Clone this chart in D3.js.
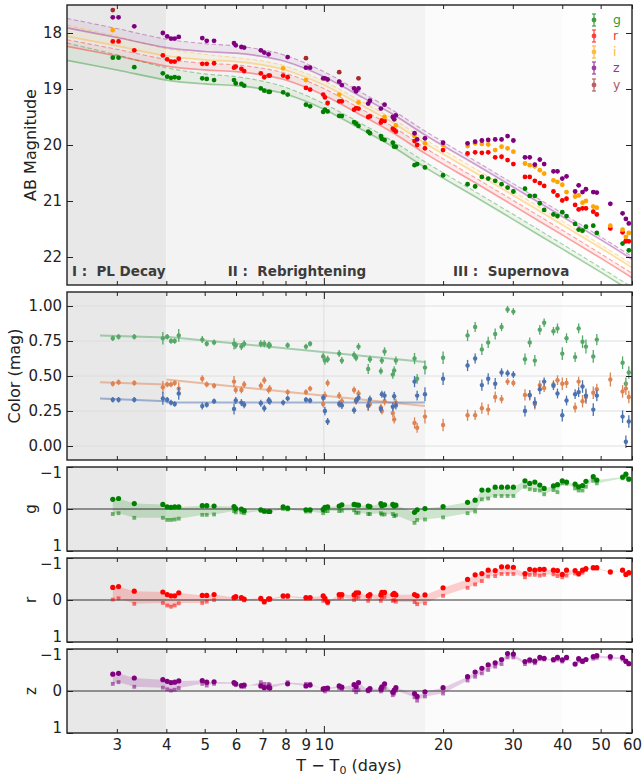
<!DOCTYPE html>
<html><head><meta charset="utf-8">
<script src="https://cdn.jsdelivr.net/npm/d3@7"></script>
<style>body{margin:0;background:#fff} text{font-family:"DejaVu Sans",sans-serif}</style>
</head><body><svg id="c" width="643" height="776"></svg>
<script>
// ---------------- DATA ----------------
const epochs=[2.93,3.03,3.32,3.92,4.02,4.11,4.20,4.30,4.93,5.06,5.28,5.93,5.99,6.19,6.29,6.93,7.07,7.25,7.30,7.89,8.10,9.01,9.23,9.96,10.06,10.22,10.93,11.10,11.92,12.06,12.23,12.94,13.07,13.93,14.01,14.23,14.93,15.05,15.20,16.94,17.20,18.0,20.0,23.06,24.1,25.06,26.0,27.08,28.1,29.1,30.1,32.2,33.1,34.1,35.1,36.0,38.0,38.9,40.0,41.0,43.1,44.0,45.0,45.9,47.9,48.9,52.9,56.8,57.9,58.9];
const gMag=[18.44,18.44,18.61,18.72,18.78,18.80,18.79,18.80,18.81,18.82,18.84,18.84,18.90,18.91,18.94,18.99,19.03,19.05,19.05,19.06,19.10,19.28,19.31,19.41,19.37,19.40,19.48,19.48,19.59,19.62,19.66,19.76,19.79,19.84,19.89,19.91,19.96,20.03,20.03,20.36,20.34,20.40,20.54,20.70,20.74,20.57,20.60,20.64,20.70,20.76,20.83,20.78,20.91,20.91,21.04,21.16,21.24,21.27,21.20,21.27,21.41,21.51,21.53,21.46,21.44,21.57,null,21.76,21.72,21.88];
const rMag=[18.15,18.15,18.31,18.40,18.47,18.51,18.51,18.46,18.55,18.55,18.54,18.62,18.60,18.64,18.68,18.72,18.79,18.76,18.76,18.76,18.79,18.98,19.01,19.10,19.15,19.25,19.22,19.22,19.37,19.34,19.35,19.50,19.49,19.60,19.56,19.57,19.71,19.73,19.76,19.93,20.00,20.06,20.09,20.15,20.13,20.14,20.13,20.22,20.21,20.27,20.34,20.57,20.57,20.64,20.68,20.73,20.83,20.90,20.99,20.96,21.07,21.15,21.13,21.13,21.19,21.24,21.49,21.56,21.71,21.72];
const iMag=[17.95,null,null,null,null,null,null,null,null,null,null,null,null,null,null,null,null,null,null,18.63,null,18.84,null,null,null,null,19.10,null,null,null,19.24,null,null,null,null,19.50,null,null,19.65,19.84,null,19.97,20.00,20.02,19.97,19.98,19.99,20.09,20.03,20.06,20.12,20.33,20.36,20.38,20.45,20.51,20.63,20.66,20.71,20.84,20.92,20.90,21.03,21.00,21.10,21.12,21.44,21.51,21.64,21.57];
const zMag=[17.72,17.72,17.88,18.00,18.06,18.10,18.10,18.07,18.09,18.14,18.14,18.18,18.22,18.25,18.26,18.31,18.35,18.38,null,null,18.43,18.62,18.62,18.81,18.81,18.83,18.87,18.93,18.99,19.04,18.99,19.26,19.21,19.35,null,19.28,19.50,19.54,19.47,19.79,19.90,19.88,19.96,19.97,19.94,19.92,19.91,19.90,19.90,19.84,19.92,20.22,20.22,20.35,20.26,20.34,20.47,20.47,20.60,20.56,20.83,20.72,20.84,20.79,20.84,20.85,21.05,21.22,21.32,21.40];
const yBandT=[2.93,9.01,10.93,12.23];
const yBandMag=[17.59,18.45,18.70,18.81];
const magErrPhase=[0.015,0.015,0.035]; // I, II, III

// model light curves (solid = model, dashed = alternative)
const modelT=[2.245,3,4,5,6,7,8,10,12,15,18,25,35,50,60];
const gSolid=[18.49,18.66,18.84,18.91,18.94,19.00,19.09,19.36,19.66,20.04,20.40,20.99,21.61,22.27,22.62];
const gDash=[18.18,18.39,18.62,18.73,18.78,18.86,18.97,19.26,19.56,19.94,20.30,20.90,21.52,22.19,22.54];
const rSolid=[18.24,18.41,18.59,18.66,18.69,18.75,18.84,19.11,19.41,19.79,20.15,20.74,21.36,22.02,22.37];
const rDash=[18.12,18.29,18.47,18.54,18.57,18.63,18.72,18.99,19.30,19.68,20.05,20.65,21.27,21.94,22.29];
const iSolid=[18.06,18.23,18.41,18.48,18.51,18.57,18.66,18.93,19.23,19.61,19.97,20.56,21.18,21.84,22.19];
const iDash=[17.86,18.06,18.28,18.38,18.44,18.50,18.59,18.86,19.16,19.54,19.90,20.49,21.11,21.78,22.13];
const zSolid=[17.91,18.08,18.26,18.33,18.36,18.42,18.51,18.78,19.08,19.46,19.82,20.41,21.03,21.69,22.04];
const zDash=[17.74,17.92,18.11,18.19,18.23,18.30,18.40,18.69,19.00,19.39,19.75,20.35,20.97,21.64,21.99];

// colours (mag)
const colGZ=[0.77,0.78,0.78,0.77,0.78,0.75,0.75,0.79,0.76,0.73,0.74,0.73,0.72,0.71,0.73,0.73,0.73,0.72,0.72,null,0.72,0.71,0.73,0.64,0.61,0.62,0.66,0.61,0.65,0.63,0.71,0.55,0.62,0.535,0.61,0.675,0.51,0.54,0.61,0.625,0.48,0.56,0.63,0.79,0.85,0.69,0.74,0.80,0.85,0.975,0.96,0.62,0.74,0.61,0.83,0.88,0.82,0.84,0.66,0.77,0.635,0.84,0.745,0.71,0.64,0.76,null,0.595,0.445,0.525];
const colGI=[0.445,0.455,0.45,0.42,0.44,0.44,0.45,0.41,0.48,0.44,0.43,0.46,0.40,0.40,0.44,0.43,0.47,0.40,0.41,null,0.385,0.385,0.41,0.30,0.36,0.45,0.36,0.32,0.40,0.32,0.375,0.285,0.30,0.275,0.25,0.32,0.235,0.19,0.31,0.165,0.13,0.21,0.15,0.22,0.22,0.27,0.26,0.35,0.335,0.46,0.45,0.365,0.36,0.30,0.435,0.415,0.44,0.47,0.445,0.45,0.275,0.46,0.32,0.35,0.38,0.405,0.475,0.39,0.41,0.35];
const colGR=[0.33,0.33,0.33,0.34,0.33,0.31,0.30,0.375,0.285,0.295,0.32,0.265,0.325,0.31,0.295,0.305,0.27,0.325,0.32,0.31,0.34,0.33,0.325,0.345,0.25,0.175,0.30,0.29,0.255,0.325,0.345,0.29,0.335,0.265,0.37,0.36,0.28,0.355,0.29,0.46,0.36,0.37,0.48,0.575,0.625,0.435,0.48,0.445,0.525,0.52,0.51,0.25,0.365,0.31,0.405,0.46,0.43,0.375,0.22,0.325,0.37,0.385,0.425,0.36,0.26,0.36,null,0.21,0.03,0.175];
const colErr=[0.02,0.02,0.02,0.045,0.02,0.02,0.02,0.045,0.025,0.02,0.02,0.04,0.025,0.025,0.025,0.025,0.025,0.025,0.025,0.02,0.02,0.02,0.02,0.025,0.03,0.025,0.025,0.025,0.025,0.025,0.025,0.035,0.025,0.025,0.025,0.03,0.03,0.03,0.03,0.04,0.035,0.05,0.045,0.04,0.035,0.04,0.04,0.04,0.03,0.025,0.025,0.04,0.035,0.04,0.035,0.03,0.03,0.035,0.045,0.035,0.035,0.035,0.045,0.05,0.045,0.04,0.05,0.045,0.045,0.045];
// linear colour fits: [t0, t1] with values
const fitPhaseI=[2.72,4.0], fitPhaseII=[4.0,18.0];
const fitGZ_I=[0.79,0.775], fitGZ_II=[0.78,0.60];
const fitGI_I=[0.455,0.44], fitGI_II=[0.475,0.285];
const fitGR_I=[0.34,0.32], fitGR_II=[0.31,0.31];

// residual panels (dots / squares)
const gResDot=[-0.23,-0.25,-0.13,-0.11,-0.05,-0.04,-0.05,-0.05,-0.08,-0.08,-0.07,-0.06,-0.01,0.00,0.04,0.02,0.05,0.06,0.06,-0.05,-0.02,0.02,0.02,0.01,-0.04,-0.05,-0.07,-0.10,-0.11,-0.10,-0.09,-0.07,-0.06,-0.13,-0.08,-0.10,-0.11,-0.07,-0.09,0.08,0.02,-0.01,-0.06,-0.16,-0.21,-0.45,-0.45,-0.52,-0.52,-0.52,-0.52,-0.67,-0.61,-0.64,-0.57,-0.49,-0.55,-0.58,-0.67,-0.64,-0.59,-0.53,-0.56,-0.66,-0.77,-0.69,null,-0.76,-0.83,-0.71];
const gResSq=[0.12,0.10,0.21,0.21,0.26,0.26,0.25,0.23,0.14,0.14,0.13,0.05,0.08,0.08,0.10,0.04,0.07,0.07,0.07,0.00,0.01,0.06,0.06,0.10,0.05,0.05,0.05,0.04,0.03,0.09,0.09,0.12,0.12,0.10,0.13,0.13,0.12,0.17,0.15,0.33,0.26,0.25,0.20,0.10,0.06,-0.23,-0.25,-0.31,-0.31,-0.31,-0.31,-0.53,-0.47,-0.45,-0.44,-0.35,-0.45,-0.40,-0.61,-0.60,-0.49,-0.44,-0.44,-0.53,-0.67,-0.61,null,-0.73,-0.77,-0.71];
const rResDot=[-0.30,-0.32,-0.21,-0.19,-0.13,-0.10,-0.10,-0.17,-0.11,-0.11,-0.13,-0.06,-0.08,-0.06,-0.02,-0.04,0.04,-0.03,-0.03,-0.10,-0.10,-0.06,-0.06,-0.10,-0.04,0.05,-0.13,-0.13,-0.12,-0.17,-0.17,-0.10,-0.13,-0.12,-0.18,-0.18,-0.13,-0.16,-0.12,-0.13,-0.10,-0.12,-0.29,-0.49,-0.60,-0.63,-0.71,-0.70,-0.79,-0.79,-0.78,-0.63,-0.73,-0.71,-0.73,-0.73,-0.71,-0.70,-0.61,-0.71,-0.70,-0.63,-0.71,-0.75,-0.77,-0.77,-0.67,-0.71,-0.61,-0.65];
const rResSq=[-0.01,-0.04,0.09,0.07,0.13,0.16,0.13,0.08,0.07,0.04,0.00,-0.03,-0.05,-0.03,0.01,-0.01,0.06,0.00,0.00,-0.07,-0.07,-0.03,-0.03,0.02,0.00,0.08,-0.05,-0.07,0.00,-0.06,-0.06,0.02,-0.06,0.02,-0.06,-0.07,0.02,0.00,0.04,0.05,0.10,0.08,-0.10,-0.29,-0.37,-0.45,-0.56,-0.57,-0.62,-0.62,-0.62,-0.54,-0.60,-0.60,-0.58,-0.60,-0.61,-0.57,-0.54,-0.58,-0.63,-0.60,-0.65,-0.71,-0.75,-0.75,-0.65,-0.71,-0.60,-0.63];
const zResDot=[-0.40,-0.42,-0.31,-0.27,-0.23,-0.20,-0.21,-0.24,-0.25,-0.21,-0.22,-0.20,-0.17,-0.13,-0.14,-0.12,-0.08,-0.09,-0.07,null,-0.17,-0.12,-0.14,-0.05,-0.06,-0.07,-0.12,-0.09,-0.15,-0.10,-0.20,-0.02,-0.06,-0.05,-0.10,-0.17,0.03,-0.02,-0.08,0.06,0.13,0.02,-0.08,-0.34,-0.45,-0.54,-0.62,-0.67,-0.75,-0.89,-0.88,-0.70,-0.74,-0.71,-0.80,-0.78,-0.75,-0.80,-0.74,-0.80,-0.64,-0.77,-0.71,-0.75,-0.82,-0.84,-0.82,-0.80,-0.71,-0.65];
const zResSq=[-0.17,-0.21,-0.10,-0.08,-0.04,-0.01,-0.03,-0.07,-0.17,-0.13,-0.17,-0.17,-0.14,-0.10,-0.10,-0.21,-0.17,-0.17,-0.14,null,-0.21,-0.17,-0.17,-0.04,0.01,-0.05,-0.07,-0.05,-0.02,0.03,-0.02,0.01,-0.02,0.01,-0.02,-0.07,0.10,0.06,-0.01,0.15,0.23,0.13,0.06,-0.25,-0.34,-0.42,-0.50,-0.58,-0.64,-0.80,-0.80,-0.64,-0.70,-0.66,-0.76,-0.75,-0.72,-0.75,-0.70,-0.77,-0.64,-0.72,-0.69,-0.74,-0.77,-0.79,-0.77,-0.75,-0.69,-0.64];

const phaseBounds=[2.245,4,18,40,60];
const phaseFills=['#e8e8e8','#f3f3f3','#fbfbfb','#fefefe'];
const phaseLabels=['I :  PL Decay','II :  Rebrightening','III :  Supernova'];
const phaseLabelT=[2.31,5.72,21.2];
const xMinorTicks=[3,4,5,6,7,8,9,20,30,40,50,60];
const xMajorTicks=[10];
const magTicks=[18,19,20,21,22];
const colTicks=[0,0.25,0.5,0.75,1.0];
const resTicks=[-1,0,1];
const bandNames=['g','r','i','z','y'];
const bandColors={g:'#008000',r:'#ff0000',i:'#ffa500',z:'#800080',y:'#a52a2a'};
const colColors={gz:'#55a868',gi:'#dd8452',gr:'#4c72b0'};

// ---------------- LAYOUT ----------------
const L=67,R=632;
const P={mag:[5,285],col:[292,460],g:[467,551],r:[558,642],z:[649,733]};
const svg=d3.select('#c');
const x=d3.scaleLog().domain([2.245,60]).range([L,R]);
const yMag=d3.scaleLinear().domain([17.5,22.5]).range(P.mag);
const yCol=d3.scaleLinear().domain([-0.1,1.1]).range([P.col[1],P.col[0]]);
const yRes={};
['g','r','z'].forEach(k=>yRes[k]=d3.scaleLinear().domain([-1,1]).range(P[k]));
const ink='#222';

// clip paths + backgrounds
const defs=svg.append('defs');
Object.entries(P).forEach(([k,[t,b]])=>{
  defs.append('clipPath').attr('id','clip-'+k).append('rect').attr('x',L).attr('y',t).attr('width',R-L).attr('height',b-t);
  const g=svg.append('g');
  for(let i=0;i<phaseFills.length;i++){
    g.append('rect').attr('x',x(phaseBounds[i])).attr('y',t)
      .attr('width',x(phaseBounds[i+1])-x(phaseBounds[i])).attr('height',b-t).attr('fill',phaseFills[i]);
  }
});

// colour panel grid
const grid=svg.append('g').attr('stroke','#dddddd').attr('stroke-width',0.9);
colTicks.forEach(v=>grid.append('line').attr('x1',L).attr('x2',R).attr('y1',yCol(v)).attr('y2',yCol(v)));
xMajorTicks.forEach(v=>grid.append('line').attr('x1',x(v)).attr('x2',x(v)).attr('y1',P.col[0]).attr('y2',P.col[1]));

// ---------------- TOP PANEL ----------------
const gm=svg.append('g').attr('clip-path','url(#clip-mag)');
const models=[['g',gSolid,gDash],['r',rSolid,rDash],['i',iSolid,iDash],['z',zSolid,zDash]];
const line=d3.line().x(d=>x(d[0])).y(d=>yMag(d[1])).curve(d3.curveCatmullRom.alpha(0.5));
const area=d3.area().x(d=>x(d[0])).y0(d=>yMag(d[1])).y1(d=>yMag(d[2])).curve(d3.curveCatmullRom.alpha(0.5));
models.forEach(([b,s,dsh])=>{
  const pts=modelT.map((t,i)=>[t,s[i],dsh[i]]);
  gm.append('path').attr('d',area(pts)).attr('fill',bandColors[b]).attr('opacity',0.06);
});
models.forEach(([b,s,dsh])=>{
  gm.append('path').attr('d',line(modelT.map((t,i)=>[t,dsh[i]]))).attr('fill','none')
    .attr('stroke',bandColors[b]).attr('stroke-opacity',0.35).attr('stroke-width',1.1).attr('stroke-dasharray','4.5,2.5');
  gm.append('path').attr('d',line(modelT.map((t,i)=>[t,s[i]]))).attr('fill','none')
    .attr('stroke',bandColors[b]).attr('stroke-opacity',0.35).attr('stroke-width',1.7);
});
function phaseOf(t){return t<4?0:(t<18?1:2);}
const magSeries=[['g',epochs,gMag],['r',epochs,rMag],['i',epochs,iMag],['z',epochs,zMag],['y',yBandT,yBandMag]];
magSeries.forEach(([b,ts,ms])=>{
  const pts=ts.map((t,i)=>[t,ms[i]]).filter(d=>d[1]!=null);
  const gg=gm.append('g').attr('fill',bandColors[b]).attr('stroke',bandColors[b]);
  pts.forEach(([t,m])=>{
    const e=magErrPhase[phaseOf(t)];
    gg.append('line').attr('x1',x(t)).attr('x2',x(t)).attr('y1',yMag(m-e)).attr('y2',yMag(m+e)).attr('stroke-width',1.2);
    gg.append('circle').attr('cx',x(t)).attr('cy',yMag(m)).attr('r',2.4).attr('stroke','none');
  });
});
// legend
const legY=[20,36,52,68,85];
bandNames.forEach((b,i)=>{
  const lg=svg.append('g').attr('stroke',bandColors[b]).attr('fill',bandColors[b]).attr('opacity',0.75);
  const cx=594,cy=legY[i];
  lg.append('line').attr('x1',cx).attr('x2',cx).attr('y1',cy-6).attr('y2',cy+6).attr('stroke-width',1.2);
  lg.append('line').attr('x1',cx-2).attr('x2',cx+2).attr('y1',cy-6).attr('y2',cy-6).attr('stroke-width',1.2);
  lg.append('line').attr('x1',cx-2).attr('x2',cx+2).attr('y1',cy+6).attr('y2',cy+6).attr('stroke-width',1.2);
  lg.append('circle').attr('cx',cx).attr('cy',cy).attr('r',2.4).attr('stroke','none');
  svg.append('text').attr('x',613).attr('y',cy).attr('dy','0.35em').attr('font-size',12.5)
    .attr('fill',bandColors[b]).attr('opacity',0.8).text(b);
});
// phase labels
phaseLabels.forEach((s,i)=>{
  svg.append('text').attr('x',x(phaseLabelT[i])).attr('y',276).attr('font-size',13.5).attr('font-weight','bold')
    .attr('fill','#3c3c3c').style('white-space','pre').text(s);
});

// ---------------- COLOUR PANEL ----------------
const gc=svg.append('g').attr('clip-path','url(#clip-col)');
const fitLine=d3.line().x(d=>x(d[0])).y(d=>yCol(d[1]));
[[fitGZ_I,fitGZ_II,'gz'],[fitGI_I,fitGI_II,'gi'],[fitGR_I,fitGR_II,'gr']].forEach(([a,b,k])=>{
  gc.append('path').attr('d',fitLine([[fitPhaseI[0],a[0]],[fitPhaseI[1],a[1]]])).attr('stroke',colColors[k]).attr('stroke-width',2).attr('stroke-opacity',0.5).attr('fill','none');
  gc.append('path').attr('d',fitLine([[fitPhaseII[0],b[0]],[fitPhaseII[1],b[1]]])).attr('stroke',colColors[k]).attr('stroke-width',2).attr('stroke-opacity',0.5).attr('fill','none');
});
[[colGZ,'gz'],[colGI,'gi'],[colGR,'gr']].forEach(([arr,k])=>{
  const gg=gc.append('g').attr('fill',colColors[k]).attr('stroke',colColors[k]);
  epochs.forEach((t,i)=>{
    const v=arr[i]; if(v==null) return;
    const e=colErr[i];
    gg.append('line').attr('x1',x(t)).attr('x2',x(t)).attr('y1',yCol(v-e)).attr('y2',yCol(v+e)).attr('stroke-width',1.3);
    gg.append('circle').attr('cx',x(t)).attr('cy',yCol(v)).attr('r',2.2).attr('stroke','none');
  });
});

// ---------------- RESIDUAL PANELS ----------------
[['g',gResDot,gResSq],['r',rResDot,rResSq],['z',zResDot,zResSq]].forEach(([b,dots,sqs])=>{
  const y=yRes[b], col=bandColors[b];
  const gr=svg.append('g').attr('clip-path','url(#clip-'+b+')');
  const pts=epochs.map((t,i)=>[t,dots[i],sqs[i]]).filter(d=>d[1]!=null&&d[2]!=null);
  const ar=d3.area().x(d=>x(d[0])).y0(d=>y(d[1])).y1(d=>y(d[2]));
  gr.append('path').attr('d',ar(pts)).attr('fill',col).attr('opacity',0.18);
  gr.append('line').attr('x1',L).attr('x2',R).attr('y1',y(0)).attr('y2',y(0)).attr('stroke','#333').attr('stroke-width',1);
  pts.forEach(([t,d,s])=>{
    gr.append('rect').attr('x',x(t)-1.9).attr('y',y(s)-1.9).attr('width',3.8).attr('height',3.8).attr('fill',col).attr('opacity',0.55);
  });
  pts.forEach(([t,d,s])=>{
    gr.append('circle').attr('cx',x(t)).attr('cy',y(d)).attr('r',2.6).attr('fill',col);
  });
});

// ---------------- AXES ----------------
function styleAxis(s){s.select('.domain').remove();s.selectAll('line').attr('stroke',ink).attr('stroke-width',1);
  s.selectAll('text').attr('font-size',15).attr('fill',ink).attr('font-family','DejaVu Sans, sans-serif');}
Object.entries(P).forEach(([k,[t,b]])=>{
  const isBottom=(k==='z');
  [[xMinorTicks,4],[xMajorTicks,7]].forEach(([vals,len])=>{
    svg.append('g').attr('transform',`translate(0,${b})`)
      .call(d3.axisBottom(x).tickValues(vals).tickSize(-len).tickPadding(6).tickFormat(isBottom?d3.format('d'):''))
      .call(styleAxis);
    svg.append('g').attr('transform',`translate(0,${t})`)
      .call(d3.axisTop(x).tickValues(vals).tickSize(-len).tickFormat('')).call(styleAxis);
  });
  let ys, tv, fmt;
  if(k==='mag'){ys=yMag;tv=magTicks;fmt=d3.format('d');}
  else if(k==='col'){ys=yCol;tv=colTicks;fmt=d3.format('.2f');}
  else {ys=yRes[k];tv=resTicks;fmt=d3.format('d');}
  const ax=svg.append('g').attr('transform',`translate(${L},0)`)
    .call(d3.axisLeft(ys).tickValues(tv).tickSize(-6).tickPadding(5).tickFormat(fmt)).call(styleAxis);
  if(k==='g'||k==='r'||k==='z'){
    // nudge the edge labels so neighbouring panels' labels do not collide
    ax.selectAll('.tick text').attr('dy',d=>d===-1?'0.68em':(d===1?'-0.05em':'0.32em'));
  }
  svg.append('g').attr('transform',`translate(${R},0)`)
    .call(d3.axisRight(ys).tickValues(tv).tickSize(-6).tickFormat('')).call(styleAxis);
  svg.append('rect').attr('x',L).attr('y',t).attr('width',R-L).attr('height',b-t)
    .attr('fill','none').attr('stroke',ink).attr('stroke-width',1.4);
});

// axis titles
function ytitle(txt,xx,yy,fs){svg.append('text').attr('transform',`translate(${xx},${yy}) rotate(-90)`)
  .attr('text-anchor','middle').attr('font-size',fs).attr('fill',ink).text(txt);}
ytitle('AB Magnitude',36,145,16);
ytitle('Color (mag)',20,376,16);
ytitle('g',36,509,15);
ytitle('r',36,600,15);
ytitle('z',36,691,15);
const xt=svg.append('text').attr('x',349).attr('y',771).attr('text-anchor','middle').attr('font-size',16).attr('fill',ink);
xt.append('tspan').text('T − T');
xt.append('tspan').attr('font-size',11).attr('dy',3).text('0');
xt.append('tspan').attr('dy',-3).text(' (days)');
</script></body></html>
